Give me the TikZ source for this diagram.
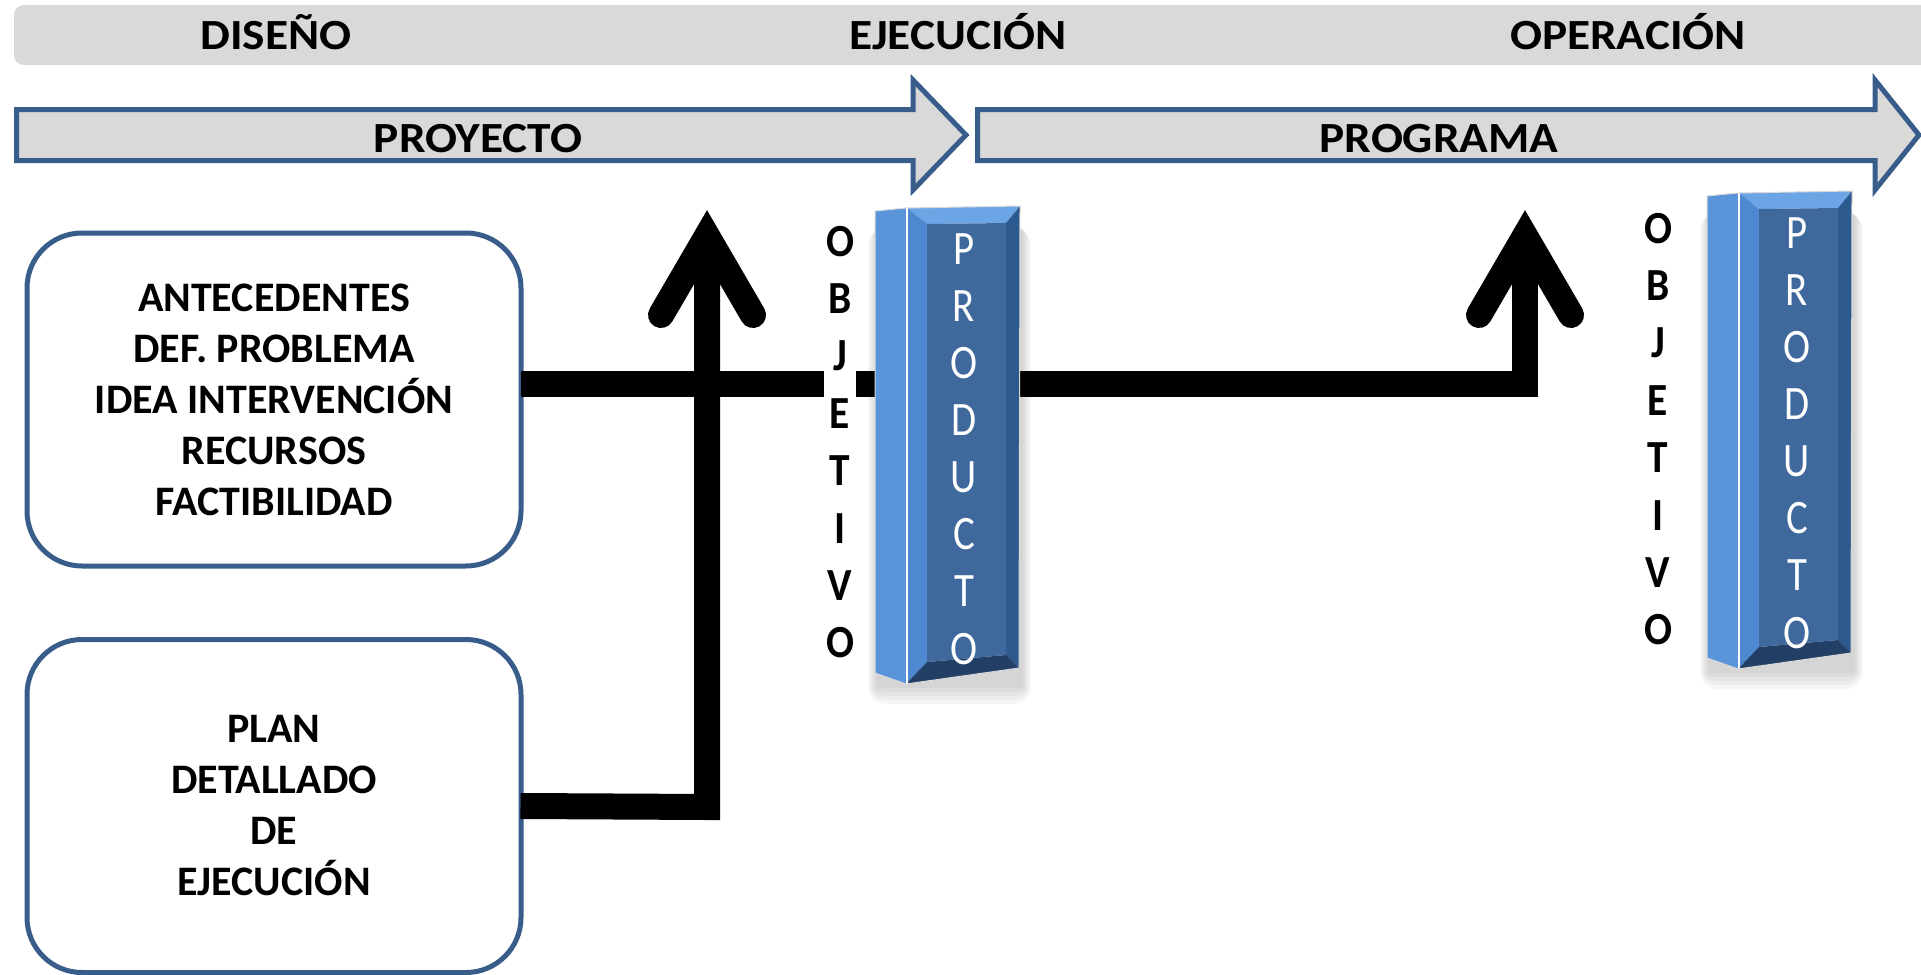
\documentclass[tikz,border=0pt]{standalone}
\usepackage{fontspec}
\setmainfont{Carlito}
\newfontfamily\widefont{Carlito}[FakeStretch=1.1]
\newfontfamily\tallfont{Carlito}[FakeStretch=0.9]
\newfontfamily\tallerfont{Carlito}[FakeStretch=0.85]
\usetikzlibrary{calc}
\definecolor{bord}{HTML}{385D8A}
\definecolor{band}{HTML}{D9D9D9}
\definecolor{lfacec}{HTML}{5A94DA}
\definecolor{tbevc}{HTML}{6CA5E6}
\definecolor{lbevc}{HTML}{4E88D0}
\definecolor{rbevc}{HTML}{2D5A8E}
\definecolor{bbevc}{HTML}{233F66}
\definecolor{panelc}{HTML}{3F689D}
\tikzset{
  hdr/.style={anchor=base, font=\widefont\bfseries\fontsize{43}{50}\selectfont},
  bigarrow/.style={draw=bord, fill=band, line width=5, line join=miter},
  box/.style={draw=bord, fill=white, line width=5, rounded corners=55,
    minimum width=494, minimum height=333, align=center, inner sep=0,
    font=\bfseries\fontsize{42}{51}\selectfont},
  conn/.style={line width=26, black, line join=miter},
  chev/.style={line width=26, black, line cap=round, line join=miter, miter limit=10},
  vobj/.style={align=center, inner xsep=2, inner ysep=0, fill=white,
    font=\tallfont\bfseries\fontsize{46}{57.4}\selectfont},
  vprod/.style={align=center, inner sep=0, text=white,
    font=\tallerfont\fontsize{48}{57.1}\selectfont},
  prodbar/.pic={
    \foreach \d in {2,6,10,14,18}{
      \fill[black,opacity=0.035,rounded corners=\d] (2-\d*0.5,20) rectangle (147+\d*0.5,478+\d);
    }
    \fill[lfacec] (0,3) -- (31,0) -- (31,476) -- (0,465) -- cycle;
    \fill[tbevc] (32,0) -- (145,-2) -- (131,15) -- (52,16) -- cycle;
    \fill[lbevc] (32,0) -- (52,16) -- (52,454) -- (31,476) -- cycle;
    \fill[rbevc] (145,-2) -- (144,460) -- (131,447) -- (131,15) -- cycle;
    \fill[bbevc] (31,476) -- (52,454) -- (131,447) -- (144,460) -- cycle;
    \fill[panelc] (52,16) -- (131,15) -- (131,447) -- (52,454) -- cycle;
    \draw[white,line width=2] (31.5,0) -- (31.5,476);
    \draw[black!15,line width=1] (0,3) -- (31,0) -- (145,-2) -- (144,460) -- (31,476) -- (0,465) -- cycle;
  }
}
\begin{document}
\begin{tikzpicture}[x=1pt,y=-1pt]
\useasboundingbox (0,0) rectangle (1921,974);
\clip (0,0) rectangle (1921,974);

% top band
\fill[band, rounded corners=10] (14,5) rectangle (1950,65);
\node[hdr] (dis) at (276,49) {DISEÑO};
\node[hdr] (eje) at (958,49) {EJECUCIÓN};
\node[hdr] (ope) at (1628,49) {OPERACIÓN};

% phase arrows
\draw[bigarrow] (16.5,109.5) -- (913,109.5) -- (913,80) -- (966,135) -- (913,190) -- (913,160.5) -- (16.5,160.5) -- cycle;
\draw[bigarrow] (977.5,109.5) -- (1875,109.5) -- (1875,80) -- (1919,135) -- (1875,190) -- (1875,160.5) -- (977.5,160.5) -- cycle;
\node[hdr] (proy) at (478,152) {PROYECTO};
\node[hdr] (prog) at (1439,152) {PROGRAMA};

% boxes
\node[box] (b1) at (274,399.5) {ANTECEDENTES\\DEF. PROBLEMA\\IDEA INTERVENCIÓN\\RECURSOS\\FACTIBILIDAD};
\node[box] (b2) at (274,806) {PLAN\\DETALLADO\\DE\\EJECUCIÓN};

% connectors
\coordinate (v1) at (707,236);
\coordinate (v2) at (1525,236);
\coordinate (k1) at (707,807);
\coordinate (k2) at (1525,384);
\draw[conn, shorten <=-3] (b2.east) -- (k1) -- (v1);
\draw[conn, shorten <=-3] (b1.east |- k2) -- (k2) -- (v2);
\draw[chev] ($(v1)+(-46,79)$) -- (v1) -- ($(v1)+(46,79)$);
\draw[chev] ($(v2)+(-46,79)$) -- (v2) -- ($(v2)+(46,79)$);

% product bars
\pic at (875,208) {prodbar};
\pic at (1707,193) {prodbar};

\node[vobj] (obj1) at (840,442) {O\\B\\J\\E\\T\\I\\V\\O};
\node[vprod] (prod1) at (964,449) {P\\R\\O\\D\\U\\C\\T\\O};
\node[vobj] (obj2) at (1658,429) {O\\B\\J\\E\\T\\I\\V\\O};
\node[vprod] (prod2) at (1797,433) {P\\R\\O\\D\\U\\C\\T\\O};
\end{tikzpicture}
\end{document}
